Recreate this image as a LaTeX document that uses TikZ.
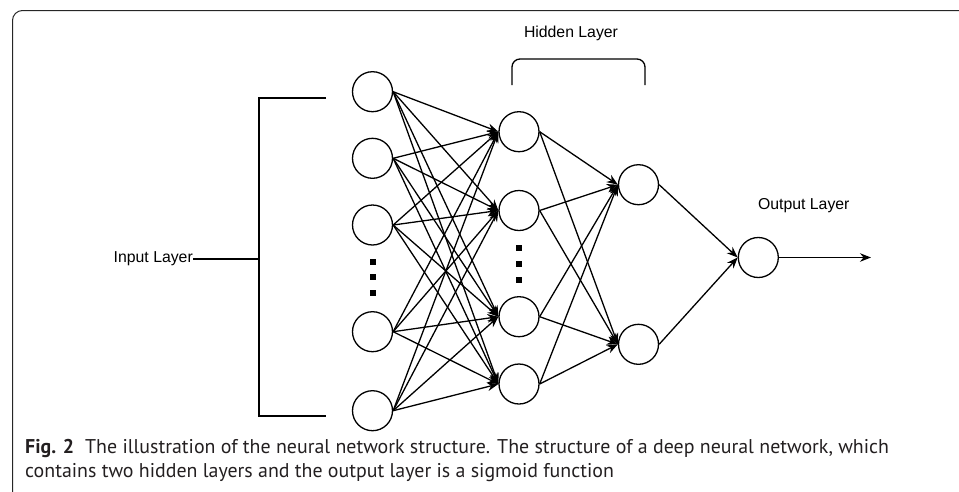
\documentclass[tikz,border=0pt]{standalone}
\usepackage{fontspec}
\setmainfont{Liberation Sans}
\newfontfamily\capfont{PT Sans}
\usetikzlibrary{arrows.meta}
\definecolor{captxt}{HTML}{231F20}
\begin{document}
\begin{tikzpicture}[x=1pt,y=-1pt,
  neuron/.style={circle,draw,line width=1.3pt,minimum size=40pt,inner sep=0pt},
  conn/.style={line width=1.3pt,-{Stealth[length=11pt,width=8.5pt]}},
  sq/.style={fill,minimum width=6pt,minimum height=6pt,inner sep=0pt},
  lbl/.style={font=\fontsize{15.8}{18}\selectfont,inner sep=0pt},
  captext/.style={font=\capfont\fontsize{19.9}{24}\selectfont,text=captxt,inner sep=0pt,anchor=base west}]
\useasboundingbox (0,0) rectangle (959,491);
\begin{scope}
  \clip (0,0) rectangle (959,491);
  \draw[line width=1pt,color=black!85,rounded corners=10pt] (12.5,520) -- (12.5,10.5) -- (990,10.5);
\end{scope}
% neurons
\foreach \n/\y in {1/91.7,2/158.3,3/225,4/331.7,5/410.7}
  \node[neuron] (i\n) at (372.5,\y) {};
\foreach \n/\y in {1/131.7,2/210.5,3/316.7,4/384}
  \node[neuron] (h\n) at (519,\y) {};
\node[neuron] (g1) at (638.5,184.7) {};
\node[neuron] (g2) at (638.5,344.3) {};
\node[neuron] (o) at (758.3,257.5) {};
\coordinate (out) at (871,257.5);
% connections
\foreach \a in {1,...,5}
  \foreach \b in {1,...,4}
    \draw[conn] (i\a.east) -- (h\b.west);
\foreach \a in {1,...,4}
  \foreach \b in {1,2}
    \draw[conn] (h\a.east) -- (g\b.west);
\foreach \b in {1,2}
  \draw[conn] (g\b.east) -- (o.west);
\draw[conn] (o.east) -- (out);
% dots
\foreach \n/\y in {1/261.7,2/277.3,3/293.3}
  \node[sq] (di\n) at (372.5,\y) {};
\foreach \n/\y in {1/247.5,2/264,3/280}
  \node[sq] (dh\n) at (519,\y) {};
% input bracket
\coordinate (bt) at (326,98.3);
\coordinate (bb) at (326,416);
\coordinate (bm) at (259.3,259);
\draw[line width=2.3pt] (bt) -- (259.3,98.3) -- (259.3,416) -- (bb);
\node[lbl,anchor=east] (il) at (193,259) {Input Layer};
\draw[line width=2.3pt] (il.east) -- (bm);
% hidden bracket
\coordinate (hbl) at (512,85);
\coordinate (hbr) at (645,85);
\draw[line width=1.3pt,rounded corners=8pt] (hbl) -- (512,59) -- (645,59) -- (hbr);
\node[lbl] (hl) at (571,33) {Hidden Layer};
\node[lbl] (ol) at (803.8,206) {Output Layer};
% caption
\node[captext] (c1) at (25,453) {\textbf{Fig. 2}\hspace{0.55em}The illustration of the neural network structure. The structure of a deep neural network, which};
\node[captext] (c2) at (25,477) {contains two hidden layers and the output layer is a sigmoid function};
\end{tikzpicture}
\end{document}
